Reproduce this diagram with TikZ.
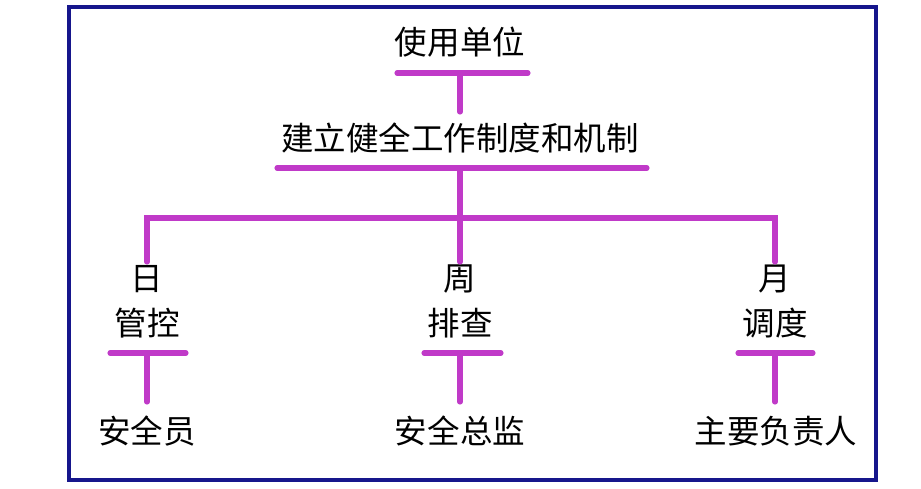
\documentclass[tikz,border=0pt]{standalone}
\usepackage{fontspec}
\setmainfont{Noto Sans CJK SC}
\definecolor{frameblue}{RGB}{22,22,140}
\definecolor{barpink}{RGB}{192,58,200}

\begin{document}
\begin{tikzpicture}[
    x=0.02cm, y=-0.02cm,
    every node/.style={font=\fontsize{18.5}{20}\selectfont, inner sep=0pt},
    bar/.style={barpink, line width=2.9pt, line cap=round}
]
\useasboundingbox (0,0) rectangle (921,488);
\draw[frameblue, line width=2.6pt] (69,7) rectangle (876,480);

\node (unit) at (460,42) {使用单位};
\node (system) at (460,138) {建立健全工作制度和机制};
\node (day) at (147,279) {日};
\node (dayctl) at (147,323) {管控};
\node (week) at (460,279) {周};
\node (weekchk) at (460,323) {排查};
\node (month) at (775,279) {月};
\node (monthsch) at (775,323) {调度};
\node (officer) at (147,431) {安全员};
\node (director) at (460,431) {安全总监};
\node (chief) at (776,431) {主要负责人};

\coordinate (unitbar) at (460,73);
\coordinate (sysbar) at (460,168);
\coordinate (hub) at (460,218);
\coordinate (daybar) at (147,353);
\coordinate (weekbar) at (460,353);
\coordinate (monthbar) at (775,353);

\draw[bar] (397,73) -- (528,73);
\draw[bar] (unitbar) -- (unit.south |- 0,112);
\draw[bar] (277,168) -- (647,168);
\draw[bar] (sysbar) -- (week.north |- 0,262);
\draw[bar] (day.north |- 0,262) |- (hub) -| (month.north |- 0,262);

\draw[bar] (110,353) -- (186,353);
\draw[bar] (424,353) -- (501,353);
\draw[bar] (738,353) -- (813,353);
\draw[bar] (daybar) -- (officer.north |- 0,402);
\draw[bar] (weekbar) -- (director.north |- 0,402);
\draw[bar] (monthbar) -- (month.north |- 0,402);
\end{tikzpicture}
\end{document}
